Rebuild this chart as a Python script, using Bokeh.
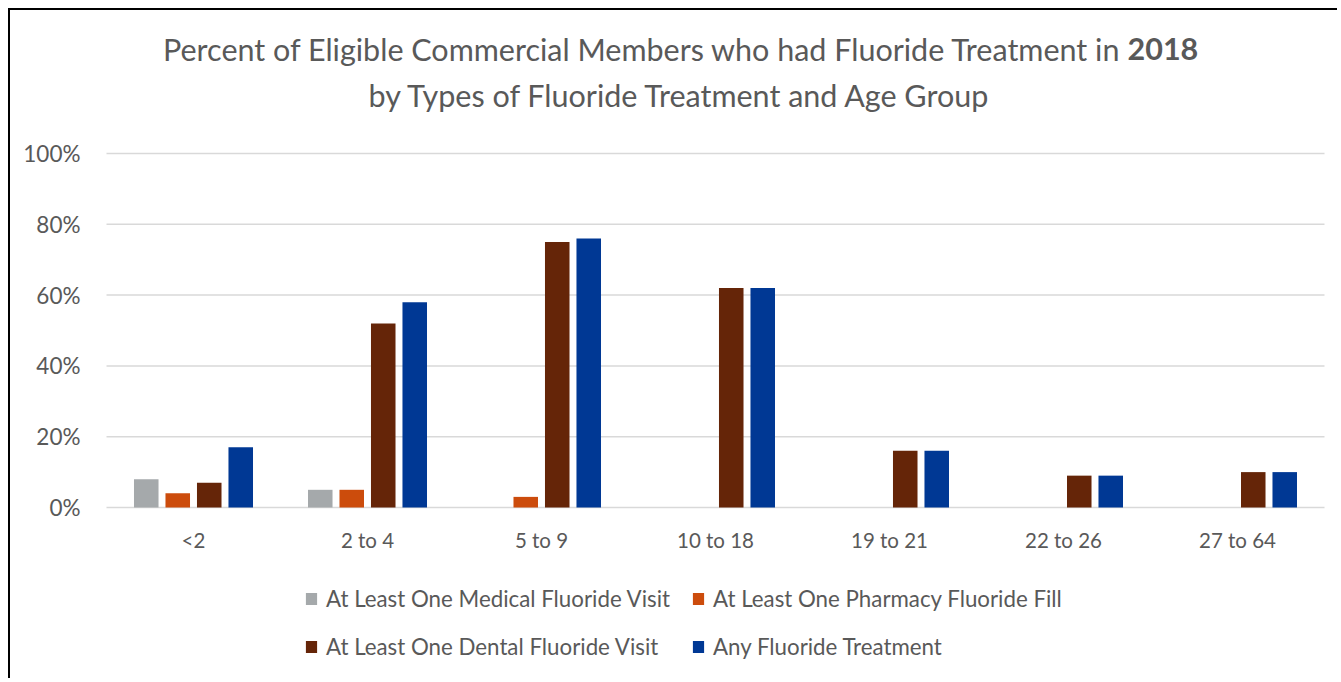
from bokeh.plotting import figure
from bokeh.models import (ColumnDataSource, Range1d, Legend, LegendItem, Label,
                          PrintfTickFormatter, FixedTicker)
from bokeh.transform import dodge
from bokeh.embed import file_html
from bokeh.resources import INLINE

# ---------------- data ----------------
age_groups = ["<2", "2 to 4", "5 to 9", "10 to 18", "19 to 21", "22 to 26", "27 to 64"]
medical_visit = [8, 5, 0, 0, 0, 0, 0]
pharmacy_fill = [4, 5, 3, 0, 0, 0, 0]
dental_visit = [7, 52, 75, 62, 16, 9, 10]
any_treatment = [17, 58, 76, 62, 16, 9, 10]
series_names = ["At Least One Medical Fluoride Visit",
                "At Least One Pharmacy Fluoride Fill",
                "At Least One Dental Fluoride Visit",
                "Any Fluoride Treatment"]
series_keys = ["medical", "pharmacy", "dental", "any"]
y_ticks = [0, 20, 40, 60, 80, 100]
title_line1 = "Percent of Eligible Commercial Members who had Fluoride Treatment in"
title_year = "2018"
title_line2 = "by Types of Fluoride Treatment and Age Group"

# ---------------- style ----------------
colors = ["#A5A9AB", "#CC4C0C", "#652508", "#003894"]
FONT = "Lato"
TEXT = "#595959"
GRID = "#D9D9D9"
W, H = 1329, 670

x_idx = list(range(len(age_groups)))
source = ColumnDataSource(dict(x=x_idx, medical=medical_visit, pharmacy=pharmacy_fill,
                               dental=dental_visit, any=any_treatment))

p = figure(x_range=Range1d(-1.0517, 6.5862), y_range=Range1d(-48.87, 140.40),
           width=W, height=H, output_backend="svg", toolbar_location=None,
           min_border=0)
p.styles = {"border-left": "2px solid black", "border-top": "2px solid black",
            "margin-left": "8px", "margin-top": "8px"}
p.outline_line_color = None
p.background_fill_color = "white"
p.border_fill_color = "white"
p.xgrid.visible = False
p.ygrid.visible = False

# horizontal gridlines across the category area
n = len(age_groups)
p.segment(x0=[-0.5] * len(y_ticks), x1=[n - 0.5] * len(y_ticks), y0=y_ticks, y1=y_ticks,
          line_color=GRID, line_width=1.5)

step = 0.181
bar_w = 0.141
offsets = [-1.5 * step, -0.5 * step, 0.5 * step, 1.5 * step]
renderers = []
for key, col, off in zip(series_keys, colors, offsets):
    r = p.vbar(x=dodge("x", off), top=key, width=bar_w, source=source,
               fill_color=col, line_color=None)
    renderers.append(r)

# axes
p.xaxis.fixed_location = 0
p.xaxis.ticker = FixedTicker(ticks=x_idx)
p.xaxis.major_label_overrides = {i: g for i, g in zip(x_idx, age_groups)}
p.xaxis.axis_line_color = None
p.xaxis.major_tick_line_color = None
p.xaxis.minor_tick_line_color = None
p.xaxis.major_label_standoff = 14
p.xaxis.major_label_text_font_size = "20.5px"

p.yaxis.fixed_location = -0.5
p.yaxis.ticker = FixedTicker(ticks=y_ticks)
p.yaxis.formatter = PrintfTickFormatter(format="%d%%")
p.yaxis.axis_line_color = None
p.yaxis.major_tick_line_color = None
p.yaxis.minor_tick_line_color = None
p.yaxis.major_label_standoff = 20
p.yaxis.major_label_text_font_size = "22.5px"
for ax in (p.xaxis, p.yaxis):
    ax.major_label_text_font = FONT
    ax.major_label_text_color = TEXT

# legend
items = [LegendItem(label=nm, renderers=[r]) for nm, r in zip(series_names, renderers)]
legend = Legend(items=items, ncols=2, orientation="horizontal", location=(294, 20),
                label_text_font=FONT, label_text_font_size="22.3px", label_text_color=TEXT,
                glyph_width=14, glyph_height=15, label_standoff=8, spacing=21,
                padding=0, margin=0, border_line_color=None, background_fill_alpha=0)
p.add_layout(legend, "center")

# title (line 1 with bold year, line 2)
common = dict(x_units="screen", y_units="screen", text_font=FONT, text_font_size="30.5px",
              text_color=TEXT, text_baseline="alphabetic")
p.add_layout(Label(x=1111, y=632, text=title_line1, text_align="right", **common))
p.add_layout(Label(x=1117, y=632, text=title_year, text_align="left", text_font_style="bold", **common))
p.add_layout(Label(x=670, y=586, text=title_line2, text_align="center", **common))

open("out.html", "w").write(file_html(p, INLINE))
